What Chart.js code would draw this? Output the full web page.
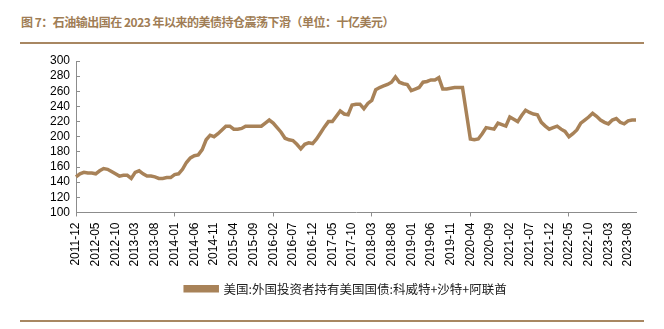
<!DOCTYPE html>
<html>
<head>
<meta charset="utf-8">
<script src="https://cdn.jsdelivr.net/npm/chart.js@4"></script>
<style>
  html, body { margin: 0; padding: 0; background: #fff; }
  #wrap { position: relative; width: 664px; height: 329px; overflow: hidden; }
  #title { position: absolute; left: 21px; top: 13px; font: bold 12px "Noto Sans CJK SC", sans-serif; letter-spacing: -0.5px; color: #a07d55; white-space: nowrap; }
  .rule { position: absolute; left: 20px; width: 624px; height: 2px; background: #a88762; }
  #chart { position: absolute; left: 0; top: 0; }
</style>
</head>
<body>
<div id="wrap">
  <div id="title">图 7：石油输出国在 2023 年以来的美债持仓震荡下滑（单位：十亿美元）</div>
  <div class="rule" style="top:42px"></div>
  <canvas id="chart" width="664" height="329"></canvas>
  <div class="rule" style="top:320px"></div>
</div>
<script>
// 月份：2011-12 至 2023-10
const months = [];
for (let y = 2011, m = 12; y < 2023 || (y === 2023 && m <= 10); m++) {
    if (m > 12) { m = 1; y++; }
    months.push(y + '-' + String(m).padStart(2, '0'));
}

// 美国:外国投资者持有美国国债:科威特+沙特+阿联酋（十亿美元）
const holdings = [
    147, 151, 153, 152, 152, 151, 155, 158, 157, 154,
    151, 148, 149, 149, 145, 153, 155, 151, 148, 148,
    147, 145, 145, 146, 146, 150, 151, 157, 166, 172,
    175, 176, 183, 196, 202, 200, 204, 209, 214, 214,
    210, 210, 211, 214, 214, 214, 214, 214, 218, 222,
    218, 212, 206, 198, 196, 195, 190, 184, 190, 192,
    191, 197, 205, 213, 220, 220, 227, 234, 230, 229,
    242, 243, 243, 237, 244, 248, 262, 265, 267, 269,
    272, 279, 272, 270, 269, 261, 263, 265, 272, 273,
    275, 275, 278, 263, 263, 264, 265, 265, 265, 231,
    197, 196, 197, 204, 212, 211, 210, 218, 216, 214,
    226, 223, 220, 228, 235, 232, 230, 229, 219, 214,
    210, 212, 214, 210, 207, 200, 204, 209, 218, 222,
    226, 231, 227, 222, 219, 217, 222, 224, 219, 217,
    221, 222, 222
];

const seriesName = '美国:外国投资者持有美国国债:科威特+沙特+阿联酋';
const lineColor = '#a88258';
const axisColor = '#8c8c8c';

// 图例整体右移一点，与原图居中位置一致
const legendShift = {
    id: 'legendShift',
    afterLayout(chart) {
        chart.legend.left += 8;
        chart.legend.right += 8;
    }
};

new Chart(document.getElementById('chart'), {
    type: 'line',
    data: {
        labels: months,
        datasets: [{
            label: seriesName,
            data: holdings,
            borderColor: lineColor,
            backgroundColor: lineColor,
            borderWidth: 3.5,
            pointRadius: 0,
            tension: 0,
            fill: false
        }]
    },
    options: {
        responsive: false,
        animation: false,
        layout: { padding: { left: 40, right: 28, top: 61, bottom: 24 } },
        scales: {
            x: {
                offset: false,
                border: { color: axisColor, width: 1 },
                grid: {
                    drawOnChartArea: false,
                    tickLength: 4,
                    color: ctx => ctx.index % 5 === 0 ? axisColor : 'transparent'
                },
                ticks: {
                    autoSkip: false,
                    minRotation: 90,
                    maxRotation: 90,
                    padding: 6,
                    color: '#000',
                    font: { family: '"Liberation Sans", Arial, sans-serif', size: 12 },
                    callback: function (value, index) {
                        return index % 5 === 0 ? this.getLabelForValue(value) : null;
                    }
                }
            },
            y: {
                min: 100,
                max: 300,
                border: { color: axisColor, width: 1 },
                grid: { drawOnChartArea: false, tickLength: -4, color: axisColor },
                ticks: {
                    stepSize: 20,
                    autoSkip: false,
                    padding: 10,
                    color: '#000',
                    font: { family: '"Liberation Sans", Arial, sans-serif', size: 12 }
                }
            }
        },
        plugins: {
            legend: {
                position: 'bottom',
                labels: {
                    boxWidth: 32,
                    boxHeight: 4,
                    padding: 10,
                    color: '#222',
                    font: { family: '"Noto Sans CJK SC", sans-serif', size: 12.5 }
                }
            },
            tooltip: { enabled: false }
        }
    },
    plugins: [legendShift]
});
</script>
</body>
</html>
